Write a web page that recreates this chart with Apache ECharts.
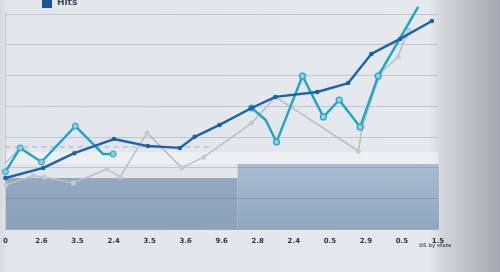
<!DOCTYPE html>
<html>
<head>
<meta charset="utf-8">
<script src="https://cdn.jsdelivr.net/npm/echarts@6/dist/echarts.min.js"></script>
<style>
html,body{margin:0;padding:0;width:500px;height:272px;overflow:hidden;}
#c{width:500px;height:272px;}
</style>
</head>
<body>
<div id="c"></div>
<script>
// Category tick labels
const categories = ['0','2.6','3.5','2.4','3.5','3.6','9.6','2.8','2.4','0.5','2.9','0.5','1.5'];

// "Hits" (dark blue) — x in category-index units, y in value units
const hitsX = [0, 1.05, 1.91, 3.01, 3.95, 4.84, 5.25, 5.94, 6.83, 7.49, 8.65, 9.51, 10.15, 10.95, 11.83];
const hitsY = [16.6, 19.9, 24.7, 29.3, 27.0, 26.4, 30.0, 33.9, 39.4, 43.0, 44.6, 47.5, 57.0, 61.9, 67.7];

// Cyan series, first run
const cyanAX = [0, 0.41, 1.0, 1.94, 2.71, 2.99];
const cyanAY = [18.6, 26.4, 21.8, 33.5, 24.4, 24.4];
// Cyan series, second run
const cyanBX = [6.83, 7.22, 7.52, 8.24, 8.82, 9.26, 9.84, 10.34, 11.45];
const cyanBY = [39.4, 35.5, 28.3, 49.8, 36.5, 42.0, 33.2, 49.8, 72.3];

// Light grey series
const greyX = [0, 0.77, 1.08, 1.88, 2.82, 3.18, 3.93, 4.89, 5.5, 6.83, 7.49, 9.79, 9.9, 10.4, 10.89, 11.09, 11.2];
const greyY = [14.3, 17.3, 16.9, 15.0, 19.5, 16.9, 31.3, 19.9, 23.4, 34.5, 43.0, 25.4, 33.2, 50.8, 56.0, 62.5, 64.8];
// short grey stub into the cyan peak
const greyStubX = [0, 0.41];
const greyStubY = [21.5, 26.4];

// Dashed reference level
const refX = [0, 5.7];
const refY = [26.7, 26.7];

// Shaded blocks (left and right levels)
const bandLeftX = [0, 6.44];
const bandLeftY = [16.6, 16.6];
const bandRightX = [6.44, 12.1];
const bandRightY = [21.2, 21.2];
const lightBand = [21.2, 25.1];

const pairs = (xs, ys) => xs.map((x, i) => [x, ys[i]]);

const chart = echarts.init(document.getElementById('c'), null, {renderer: 'canvas'});

const option = {
  animation: false,
  backgroundColor: {
    type: 'linear', x: 0, y: 0, x2: 1, y2: 0,
    colorStops: [
      {offset: 0, color: '#d6dadf'},
      {offset: 0.015, color: '#e2e6ea'},
      {offset: 0.86, color: '#e5e8ec'},
      {offset: 0.885, color: '#d2d6db'},
      {offset: 1, color: '#a3a8b0'}
    ]
  },
  textStyle: {fontFamily: 'DejaVu Sans'},
  legend: {
    data: ['Hits'],
    left: 37, top: -7,
    itemWidth: 10, itemHeight: 10, itemGap: 4,
    icon: 'rect',
    itemStyle: {color: '#1d5298'},
    textStyle: {fontSize: 9, fontWeight: 'bold', color: '#3b4a5c'}
  },
  grid: {left: 4, right: 62, top: 14, bottom: 43, containLabel: false},
  xAxis: [
    {
      type: 'category', data: categories, boundaryGap: false,
      axisLine: {show: true, lineStyle: {color: '#b9c2cc', width: 1}},
      axisTick: {show: true, inside: true, length: 4, lineStyle: {color: '#d8dee4'}},
      axisLabel: {fontSize: 7, fontWeight: 'bold', color: '#2c3540', margin: 9},
      splitLine: {show: false}
    },
    {type: 'value', min: 0, max: 12, show: false}
  ],
  yAxis: {
    type: 'value', min: 0, max: 70, interval: 10, z: 3,
    axisLine: {show: true, lineStyle: {color: '#c4cad2'}},
    axisTick: {show: false}, axisLabel: {show: false},
    splitLine: {show: true, lineStyle: {color: 'rgba(55,75,105,0.2)', width: 1}}
  },
  graphic: [
    {type: 'text', left: 419, top: 243,
     style: {text: 'US by state', fontSize: 5, fontWeight: 'bold', fill: '#56606c', fontFamily: 'DejaVu Sans'}}
  ],
  series: [
    {
      name: 'bandLeft', type: 'line', xAxisIndex: 1, z: 1, silent: true,
      data: pairs(bandLeftX, bandLeftY), symbol: 'none',
      lineStyle: {width: 0},
      areaStyle: {opacity: 1, color: {type: 'linear', x: 0, y: 0, x2: 0, y2: 1,
        colorStops: [{offset: 0, color: '#93a9c0'}, {offset: 1, color: '#8aa1ba'}]}},
      markArea: {silent: true, itemStyle: {color: 'rgba(255,255,255,0.35)'},
        data: [[{xAxis: 0, yAxis: lightBand[0]}, {xAxis: 12.1, yAxis: lightBand[1]}]]}
    },
    {
      name: 'bandRight', type: 'line', xAxisIndex: 1, z: 1, silent: true,
      data: pairs(bandRightX, bandRightY), symbol: 'none',
      lineStyle: {width: 0},
      areaStyle: {opacity: 1, color: {type: 'linear', x: 0, y: 0, x2: 0, y2: 1,
        colorStops: [{offset: 0, color: '#a9bdd1'}, {offset: 1, color: '#8ea6bf'}]}}
    },
    {
      name: 'ref', type: 'line', xAxisIndex: 1, z: 4, silent: true,
      data: pairs(refX, refY), symbol: 'none',
      lineStyle: {color: '#a9b2bc', width: 1, type: [5, 4]}
    },
    {
      name: 'grey', type: 'line', xAxisIndex: 1, z: 5, clip: false,
      data: pairs(greyX, greyY),
      symbol: 'circle', symbolSize: 5, showAllSymbol: true,
      itemStyle: {color: '#c2cbd5'},
      lineStyle: {color: '#b6c0cb', width: 1.6}
    },
    {
      name: 'greyStub', type: 'line', xAxisIndex: 1, z: 5, clip: false,
      data: pairs(greyStubX, greyStubY), symbol: 'none',
      lineStyle: {color: '#b6c0cb', width: 1.6}
    },
    {
      name: 'cyanA', type: 'line', xAxisIndex: 1, z: 6, clip: false,
      data: pairs(cyanAX, cyanAY),
      symbol: 'circle', symbolSize: (v, p) => (p.dataIndex === 4 ? 0 : 6),
      itemStyle: {color: '#8fc9dc', borderColor: '#1ea4c9', borderWidth: 1},
      lineStyle: {color: '#1ea4c9', width: 2.4}
    },
    {
      name: 'cyanB', type: 'line', xAxisIndex: 1, z: 6, clip: false,
      data: pairs(cyanBX, cyanBY),
      symbol: 'circle', symbolSize: (v, p) => (p.dataIndex === 1 || p.dataIndex === 8 ? 0 : 6),
      itemStyle: {color: '#8fd0e4', borderColor: '#1ea4c9', borderWidth: 1.2},
      lineStyle: {color: '#1ea4c9', width: 2.4}
    },
    {
      name: 'Hits', type: 'line', xAxisIndex: 1, z: 7, clip: false,
      data: pairs(hitsX, hitsY),
      symbol: 'circle', symbolSize: 4.5,
      itemStyle: {color: '#1b5fa8'},
      lineStyle: {color: '#1d62ad', width: 2.4}
    }
  ]
};
chart.setOption(option);
</script>
</body>
</html>
